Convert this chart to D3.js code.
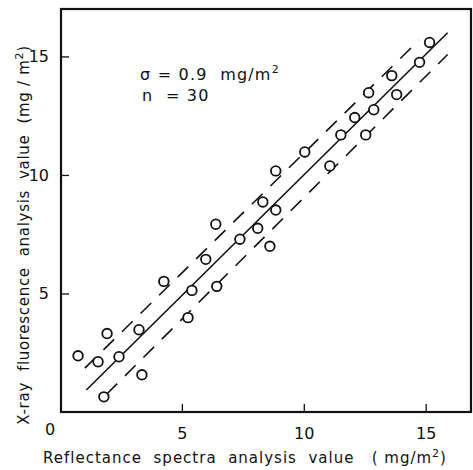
<!DOCTYPE html>
<html lang="en">
<head>
<meta charset="utf-8">
<title>X-ray fluorescence vs reflectance spectra</title>
<script src="https://cdn.jsdelivr.net/npm/d3@7"></script>
<style>
  body { margin: 0; background: #fff; }
  text { font-family: "DejaVu Sans", sans-serif; fill: #111; white-space: pre; }
</style>
</head>
<body>
<script>
// measured points: reflectance (x) vs X-ray fluorescence (y), mg/m2
var reflectance = [0.74, 1.56, 1.93, 1.80, 2.42, 3.24, 3.36, 4.26, 5.25, 5.41,
                   5.98, 6.43, 6.39, 7.38, 8.11, 8.32, 8.61, 8.85, 8.85, 10.04,
                   11.07, 11.52, 12.09, 12.54, 12.66, 12.87, 13.61, 13.81, 14.75, 15.16];
var xrayValue   = [2.37, 2.12, 3.31, 0.64, 2.33, 3.47, 1.57, 5.51, 3.98, 5.13,
                   6.44, 5.30, 7.92, 7.29, 7.75, 8.86, 6.99, 10.17, 8.52, 10.97,
                   10.38, 11.69, 12.42, 11.69, 13.47, 12.75, 14.19, 13.39, 14.75, 15.59];

// regression line and +/- sigma band ends
var fitLine   = [[1.08, 0.93], [15.9, 16.0]];
var upperBand = [[1.02, 1.85], [14.73, 15.69]];
var lowerBand = [[1.91, 0.75], [15.9, 15.08]];

var xTicks = [5, 10, 15];
var yTicks = [5, 10, 15];

var width = 473, height = 470;
var margin = {top: 9, right: 1, bottom: 58, left: 60};

var svg = d3.select("body").append("svg")
    .attr("width", width)
    .attr("height", height);

var xScale = d3.scaleLinear()
    .domain([0, 16.9])
    .range([margin.left, width - margin.right]);
var yScale = d3.scaleLinear()
    .domain([0, 17])
    .range([height - margin.bottom, margin.top]);

var dataset = reflectance.map(function(d, i) {
    return {x: d, y: xrayValue[i]};
});

// frame
svg.append("rect")
    .attr("x", xScale(0) + 1)
    .attr("y", yScale(17))
    .attr("width", xScale(16.9) - xScale(0) - 2)
    .attr("height", yScale(0) - yScale(17))
    .attr("fill", "none")
    .attr("stroke", "#111")
    .attr("stroke-width", 2.2);

// axes, ticks pointing inward
var xAxis = d3.axisBottom(xScale).tickValues(xTicks).tickSizeInner(-8).tickSizeOuter(0).tickPadding(16);
var yAxis = d3.axisLeft(yScale).tickValues(yTicks).tickSizeInner(-8).tickSizeOuter(0).tickPadding(12);

var gx = svg.append("g")
    .attr("transform", "translate(0," + yScale(0) + ")")
    .call(xAxis);
var gy = svg.append("g")
    .attr("transform", "translate(" + (xScale(0) + 1) + ",0)")
    .call(yAxis);

[gx, gy].forEach(function(g) {
    g.select(".domain").remove();
    g.selectAll(".tick line").attr("stroke", "#111").attr("stroke-width", 1.3);
    g.selectAll(".tick text").attr("font-size", 16).attr("fill", "#111")
        .style("font-family", "DejaVu Sans, sans-serif");
});

// shared origin label
svg.append("text")
    .attr("x", xScale(0) - 10)
    .attr("y", yScale(0) + 23)
    .attr("text-anchor", "middle")
    .attr("font-size", 16)
    .text("0");

// lines
var line = d3.line()
    .x(function(d) { return xScale(d[0]); })
    .y(function(d) { return yScale(d[1]); });

svg.append("path")
    .attr("d", line(fitLine))
    .attr("fill", "none")
    .attr("stroke", "#111")
    .attr("stroke-width", 1.6);

[upperBand, lowerBand].forEach(function(b) {
    svg.append("path")
        .attr("d", line(b))
        .attr("fill", "none")
        .attr("stroke", "#111")
        .attr("stroke-width", 1.6)
        .attr("stroke-dasharray", "15,11");
});

// points
svg.selectAll("circle")
    .data(dataset)
    .enter()
    .append("circle")
    .attr("cx", function(d) { return xScale(d.x); })
    .attr("cy", function(d) { return yScale(d.y); })
    .attr("r", 4.8)
    .attr("fill", "white")
    .attr("stroke", "#111")
    .attr("stroke-width", 1.8);

// annotation
var note = svg.append("text")
    .attr("x", 140)
    .attr("y", 80)
    .attr("font-size", 16)
    .attr("letter-spacing", 1.2);
note.append("tspan").text("\u03C3 = 0.9  mg/m");
note.append("tspan").attr("dy", -7).attr("font-size", 11).text("2");

svg.append("text")
    .attr("x", 142)
    .attr("y", 101)
    .attr("font-size", 16)
    .attr("letter-spacing", 1.2)
    .text("n  = 30");

// axis labels
var xl = svg.append("text")
    .attr("x", 245)
    .attr("y", 463)
    .attr("text-anchor", "middle")
    .attr("font-size", 15)
    .attr("letter-spacing", 1.0);
xl.append("tspan").text("Reflectance  spectra  analysis  value   ( mg/m");
xl.append("tspan").attr("dy", -6).attr("font-size", 11).text("2");
xl.append("tspan").attr("dy", 6).text(")");

var yl = svg.append("text")
    .attr("transform", "translate(29,235) rotate(-90)")
    .attr("text-anchor", "middle")
    .attr("font-size", 15)
    .attr("letter-spacing", 0.7);
yl.append("tspan").text("X-ray  fluorescence  analysis  value  (mg / m");
yl.append("tspan").attr("dy", -6).attr("font-size", 11).text("2");
yl.append("tspan").attr("dy", 6).text(")");
</script>
</body>
</html>
